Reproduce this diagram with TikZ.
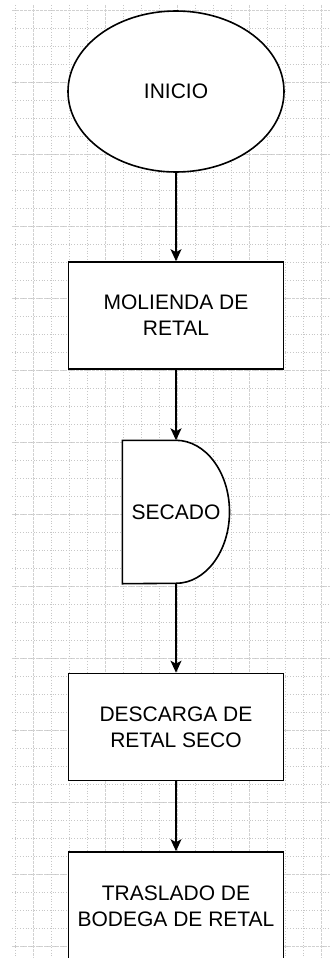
\documentclass[tikz,border=0pt]{standalone}
\usepackage{fontspec}
\setmainfont{Liberation Sans}
\usetikzlibrary{shapes.geometric,arrows.meta}

\tikzset{
  minorgrid/.style={draw=black!22, line width=0.7pt, dotted},
  majorgrid/.style={draw=black!18, line width=0.9pt, dash pattern=on 3pt off 1pt},
  flowline/.style={draw=black, line width=1.6pt},
  flowarrow/.style={flowline, -{Stealth[length=12pt,width=11pt,inset=3pt]}},
  textstyle/.style={font=\fontsize{21}{26}\selectfont, text=black, align=center, inner sep=0pt},
  processbox/.style={textstyle, rectangle, draw=black, line width=1.6pt, fill=white,
    minimum width=215pt, minimum height=107pt},
  startbox/.style={textstyle, ellipse, draw=black, line width=1.6pt, fill=white,
    minimum width=216pt, minimum height=161pt},
  delaybox/.style={textstyle, rectangle, minimum width=107pt, minimum height=143pt}
}

\begin{document}
\begin{tikzpicture}[x=1pt, y=-1pt]
  \useasboundingbox (0,0) rectangle (330,958);
  \fill[white] (0,0) rectangle (330,958);

  % background grid: dotted minor lines, every fourth line a major one
  \begin{scope}
    \clip (12,5) rectangle (330,958);
    \foreach \x in {15,51,...,330} \draw[minorgrid] (\x,5) -- (\x,958);
    \foreach \x in {69,141,...,330} \draw[minorgrid] (\x,5) -- (\x,958);
    \foreach \y in {28,46,...,958} \draw[minorgrid] (12,\y) -- (330,\y);
    \foreach \x in {33,105,...,330} \draw[majorgrid] (\x,5) -- (\x,958);
    \foreach \y in {10,82,...,958} \draw[majorgrid] (12,\y) -- (330,\y);
  \end{scope}

  % flowchart steps
  \node[startbox] (inicio) at (176,91.5) {INICIO};
  \node[processbox] (molienda) at (176,315.5) {MOLIENDA DE\\RETAL};
  \node[delaybox] (secado) at (176,512) {};
  % delay symbol: straight left half, half-ellipse on the right
  \draw[flowline, fill=white]
    (secado.south west) -- (secado.north west) -- (secado.north)
    arc[start angle=90, end angle=-90, x radius=53.5pt, y radius=71.5pt]
    -- cycle;
  \node[textstyle] at (secado.center) {SECADO};
  \node[processbox] (descarga) at (176,727) {DESCARGA DE\\RETAL SECO};
  \node[processbox, minimum height=109pt] (traslado) at (176,906.5) {TRASLADO DE\\BODEGA DE RETAL};

  % connectors
  \draw[flowarrow] (inicio.south) -- (molienda.north);
  \draw[flowarrow] (molienda.south) -- (secado.north);
  \draw[flowarrow] (secado.south) -- (descarga.north);
  \draw[flowarrow] (descarga.south) -- (traslado.north);
\end{tikzpicture}
\end{document}
